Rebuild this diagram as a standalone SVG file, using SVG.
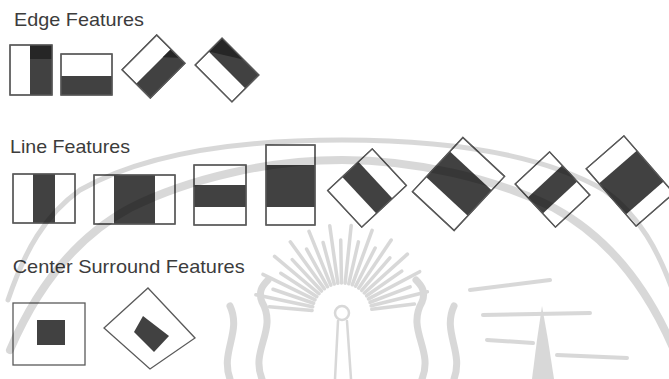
<svg xmlns="http://www.w3.org/2000/svg" xmlns:xlink="http://www.w3.org/1999/xlink" width="669" height="379" viewBox="0 0 669 379">
  <defs>
    <style>
      .frame { fill: #ffffff; stroke: #5a5a5a; stroke-width: 1.3; }
      .outline { fill: none; stroke: #5a5a5a; stroke-width: 1.3; }
      .dark { fill: #414141; }
      .darker { fill: #262626; }
      .title { font-family: "Liberation Sans", Arial, sans-serif; font-size: 19px; fill: #3c3c3c; }
      .wm { fill: none; stroke: #000000; stroke-linecap: round; }
    </style>
    <line id="rayS" x1="372" y1="313" x2="415" y2="313" stroke-width="3.5"/>
    <line id="rayL" x1="372" y1="313" x2="430" y2="313" stroke-width="3.5"/>
  </defs>
  <rect width="669" height="379" fill="#ffffff"/>

  <text class="title" x="14" y="26" textLength="130" lengthAdjust="spacingAndGlyphs">Edge Features</text>
  <text class="title" x="10" y="153" textLength="120" lengthAdjust="spacingAndGlyphs">Line Features</text>
  <text class="title" x="12.7" y="272.5" textLength="232" lengthAdjust="spacingAndGlyphs">Center Surround Features</text>

  <!-- Edge features -->
  <g id="edge1">
    <rect class="frame" x="10" y="45" width="42" height="50"/>
    <rect class="dark" x="30" y="45" width="22" height="50"/>
    <rect class="darker" x="30" y="45" width="22" height="14"/>
    <rect class="outline" x="10" y="45" width="42" height="50"/>
  </g>
  <g id="edge2">
    <rect class="frame" x="61" y="54" width="51" height="41"/>
    <rect class="dark" x="61" y="76" width="51" height="19"/>
    <rect class="outline" x="61" y="54" width="51" height="41"/>
  </g>
  <g id="edge3" transform="translate(153.5 66.5) rotate(-45)">
    <rect class="frame" x="-24.5" y="-20" width="49" height="40"/>
    <rect class="dark" x="-24.5" y="0" width="49" height="20"/>
    <polygon class="darker" points="13,0 24.5,0 24.5,12"/>
    <rect class="outline" x="-24.5" y="-20" width="49" height="40"/>
  </g>
  <g id="edge4" transform="translate(227 70) rotate(45)">
    <rect class="frame" x="-26" y="-19" width="52" height="38"/>
    <rect class="dark" x="-26" y="-19" width="52" height="19"/>
    <polygon class="darker" points="-26,-19 -26,0 4,-19"/>
    <rect class="outline" x="-26" y="-19" width="52" height="38"/>
  </g>

  <!-- Line features -->
  <g id="line1">
    <rect class="frame" x="13" y="174" width="62" height="49"/>
    <rect class="dark" x="33" y="174" width="22" height="49"/>
    <rect class="outline" x="13" y="174" width="62" height="49"/>
  </g>
  <g id="line2">
    <rect class="frame" x="94" y="175" width="81" height="49"/>
    <rect class="dark" x="114" y="175" width="41" height="49"/>
    <rect class="outline" x="94" y="175" width="81" height="49"/>
  </g>
  <g id="line3">
    <rect class="frame" x="194" y="165" width="52" height="60"/>
    <rect class="dark" x="194" y="185" width="52" height="22"/>
    <rect class="outline" x="194" y="165" width="52" height="60"/>
  </g>
  <g id="line4">
    <rect class="frame" x="266" y="145" width="49" height="80"/>
    <rect class="dark" x="266" y="165" width="49" height="42"/>
    <rect class="outline" x="266" y="145" width="49" height="80"/>
  </g>
  <g id="line5" transform="translate(367 188) rotate(-43)">
    <rect class="frame" x="-30.5" y="-25" width="61" height="50"/>
    <rect class="dark" x="-10.5" y="-25" width="22" height="50"/>
    <rect class="outline" x="-30.5" y="-25" width="61" height="50"/>
  </g>
  <g id="line6" transform="translate(458.5 184) rotate(-47)">
    <rect class="frame" x="-37" y="-28.5" width="74" height="57"/>
    <rect class="dark" x="-17" y="-28.5" width="35" height="57"/>
    <rect class="outline" x="-37" y="-28.5" width="74" height="57"/>
  </g>
  <g id="line7" transform="translate(552.5 189.5) rotate(47)">
    <rect class="frame" x="-29.5" y="-23.5" width="59" height="47"/>
    <rect class="dark" x="-11" y="-23.5" width="22" height="47"/>
    <rect class="outline" x="-29.5" y="-23.5" width="59" height="47"/>
  </g>
  <g id="line8" transform="translate(630 181) rotate(49)">
    <rect class="frame" x="-38" y="-25" width="76" height="50"/>
    <rect class="dark" x="-18.5" y="-25" width="41" height="50"/>
    <rect class="outline" x="-38" y="-25" width="76" height="50"/>
  </g>

  <!-- Center surround features -->
  <g id="center1">
    <rect class="frame" x="13" y="303" width="72" height="62"/>
    <rect class="dark" x="37" y="320" width="28" height="25"/>
  </g>
  <g id="center2">
    <polygon class="frame" points="148,288 195,338 150,369 104,328"/>
    <polygon class="dark" points="143,316 169,336 154,352 134,332"/>
  </g>

  <!-- faint watermark -->
  <g id="watermark" opacity="0.15">
    <path class="wm" stroke-width="8" d="M 10,350 C 40,280 80,235 130,208 C 190,178 270,160 342,160 C 414,160 494,178 554,208 C 604,235 644,280 674,350"/>
    <path class="wm" stroke-width="5" d="M 8,300 C 25,250 45,215 80,190 C 150,150 250,140 342,140 C 434,140 534,150 604,190 C 639,215 659,250 676,300"/>
    <g class="wm">
      <use xlink:href="#rayS" transform="rotate(-175 342 313)"/>
      <use xlink:href="#rayL" transform="rotate(-168 342 313)"/>
      <use xlink:href="#rayS" transform="rotate(-161 342 313)"/>
      <use xlink:href="#rayL" transform="rotate(-154 342 313)"/>
      <use xlink:href="#rayS" transform="rotate(-147 342 313)"/>
      <use xlink:href="#rayL" transform="rotate(-140 342 313)"/>
      <use xlink:href="#rayS" transform="rotate(-133 342 313)"/>
      <use xlink:href="#rayL" transform="rotate(-126 342 313)"/>
      <use xlink:href="#rayS" transform="rotate(-119 342 313)"/>
      <use xlink:href="#rayL" transform="rotate(-112 342 313)"/>
      <use xlink:href="#rayS" transform="rotate(-105 342 313)"/>
      <use xlink:href="#rayL" transform="rotate(-98 342 313)"/>
      <use xlink:href="#rayS" transform="rotate(-91 342 313)"/>
      <use xlink:href="#rayL" transform="rotate(-84 342 313)"/>
      <use xlink:href="#rayS" transform="rotate(-77 342 313)"/>
      <use xlink:href="#rayL" transform="rotate(-70 342 313)"/>
      <use xlink:href="#rayS" transform="rotate(-63 342 313)"/>
      <use xlink:href="#rayL" transform="rotate(-56 342 313)"/>
      <use xlink:href="#rayS" transform="rotate(-49 342 313)"/>
      <use xlink:href="#rayL" transform="rotate(-42 342 313)"/>
      <use xlink:href="#rayS" transform="rotate(-35 342 313)"/>
      <use xlink:href="#rayL" transform="rotate(-28 342 313)"/>
      <use xlink:href="#rayS" transform="rotate(-21 342 313)"/>
      <use xlink:href="#rayL" transform="rotate(-14 342 313)"/>
      <use xlink:href="#rayS" transform="rotate(-7 342 313)"/>
    </g>
    <path class="wm" stroke-width="4" d="M 470,290 L 550,280 M 483,315 L 590,313 M 487,340 L 533,343 M 557,355 L 627,358"/>
    <circle class="wm" cx="342" cy="313" r="7" stroke-width="2.5"/>
    <path class="wm" stroke-width="2.5" d="M 338,321 L 335,379 M 347,321 L 351,379"/>
    <path class="wm" stroke-width="7" d="M 262,379 C 250,350 278,330 262,302 C 258,292 262,286 268,280 M 230,379 C 220,352 242,332 230,306 M 422,379 C 434,350 406,330 422,302 C 426,292 422,286 416,280 M 454,379 C 464,352 442,332 454,306"/>
    <polygon fill="#000000" points="542,306 537,340 532,379 554,379 548,340"/>
  </g>
</svg>
